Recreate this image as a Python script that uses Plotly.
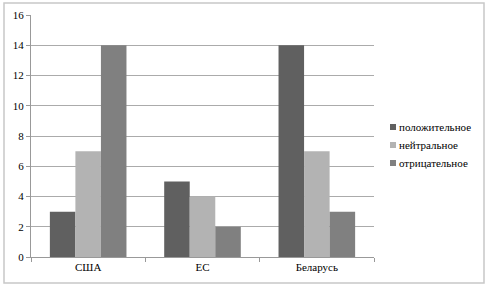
import plotly.graph_objects as go

categories = ["США", "ЕС", "Беларусь"]
series_names = ["положительное", "нейтральное", "отрицательное"]
positive = [3, 5, 14]
neutral = [7, 4, 7]
negative = [14, 2, 3]
colors = ["#606060", "#b3b3b3", "#808080"]

FONT = "serif"
FS = 11

fig = go.Figure()
for name, vals, col in zip(series_names, [positive, neutral, negative], colors):
    fig.add_trace(go.Bar(x=categories, y=vals, name=name, marker_color=col,
                         marker_line_width=0))

L, R, T, B = 31, 114, 15, 31
W, H = 488, 288
pw, ph = W - L - R, H - T - B

def px_x(p):
    return (p - L) / pw

def px_y(p):
    return (H - B - p) / ph

shapes = [dict(type="rect", xref="paper", yref="paper",
               x0=px_x(4), x1=px_x(484), y0=px_y(283), y1=px_y(3),
               line=dict(color="#c8c8c8", width=1.5), fillcolor="rgba(0,0,0,0)",
               layer="above")]
annotations = []
legend_rows = [127, 145, 163]
for name, col, row in zip(series_names, colors, legend_rows):
    shapes.append(dict(type="rect", xref="paper", yref="paper",
                       x0=px_x(390), x1=px_x(396), y0=px_y(row + 3), y1=px_y(row - 3),
                       line=dict(width=0), fillcolor=col))
    annotations.append(dict(xref="paper", yref="paper", x=px_x(397), y=px_y(row),
                            xanchor="left", yanchor="middle", text=name, showarrow=False,
                            font=dict(family=FONT, size=FS, color="#000")))

fig.update_layout(
    width=W, height=H, autosize=False,
    margin=dict(l=L, r=R, t=T, b=B, autoexpand=False),
    paper_bgcolor="white", plot_bgcolor="white",
    font=dict(family=FONT, size=FS, color="#000"),
    barmode="group", bargap=0.33, bargroupgap=0,
    showlegend=False,
    xaxis=dict(showgrid=False, ticks="outside", tickson="boundaries", ticklen=4,
               tickcolor="#999", showline=True, linecolor="#999", linewidth=1,
               automargin=False, tickfont=dict(family=FONT, size=FS)),
    yaxis=dict(range=[0, 16], dtick=2, showgrid=True, gridcolor="#ababab", gridwidth=1,
               ticks="outside", ticklen=4, tickcolor="#999", showline=True,
               linecolor="#999", linewidth=1, zeroline=False, automargin=False,
               tickfont=dict(family=FONT, size=FS)),
    shapes=shapes,
    annotations=annotations,
)

fig.write_html("out.html", config={"displayModeBar": False},
               post_script="document.body.style.margin='0';document.body.style.padding='0';")
